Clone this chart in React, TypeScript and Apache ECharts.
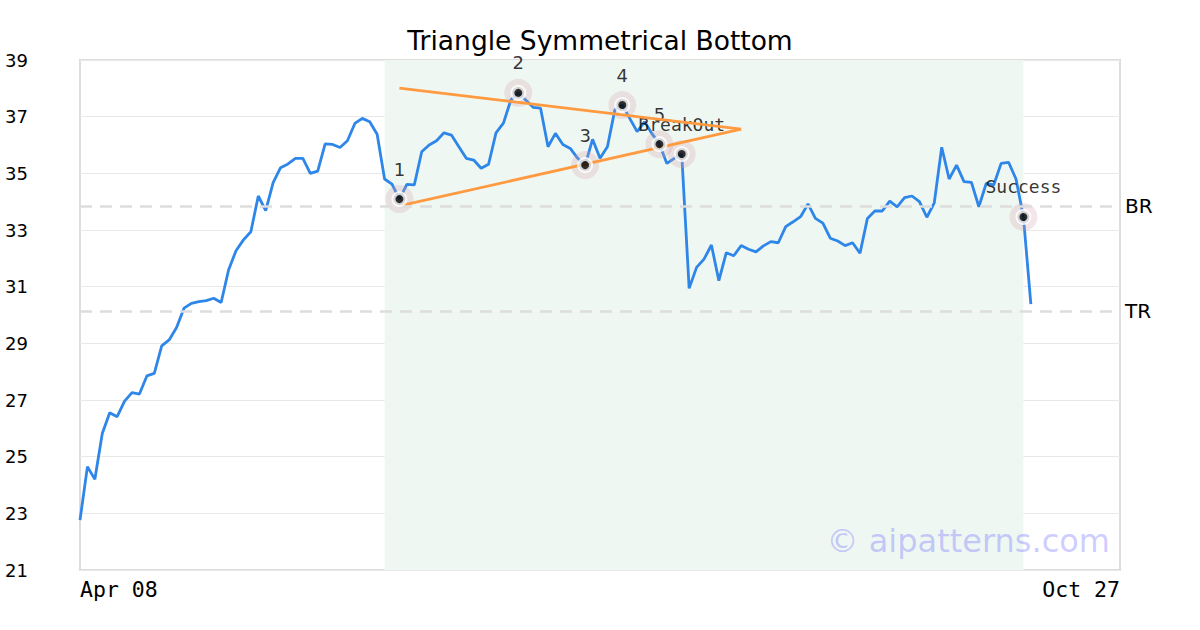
import React, { useEffect, useRef } from "react";
import * as echarts from "echarts";

const chartTitle = "Triangle Symmetrical Bottom";
const xTickLabels = ["Apr 08", "Oct 27"];
const categoryCount = 141;
const categories = Array.from({ length: categoryCount }, (_, i) => String(i));

const closeValues = [
  22.76, 24.65, 24.2, 25.82, 26.55, 26.41, 26.96, 27.26, 27.21, 27.85, 27.94, 28.91, 29.12, 29.56, 30.24,
  30.41, 30.47, 30.51, 30.59, 30.44, 31.59, 32.27, 32.65, 32.94, 34.2, 33.68, 34.67, 35.2, 35.33, 35.53,
  35.53, 35.0, 35.08, 36.04, 36.02, 35.91, 36.15, 36.76, 36.94, 36.82, 36.38, 34.8, 34.62, 34.09,
  34.61, 34.59, 35.76, 36.0, 36.15, 36.43, 36.35, 35.94, 35.53, 35.47, 35.18, 35.32, 36.43, 36.77, 37.59, 37.84,
  37.59, 37.33, 37.3, 35.94, 36.41, 36.02, 35.88, 35.53, 35.29,
  36.2, 35.53, 35.94, 37.24, 37.41,
  36.94, 36.47, 36.82, 36.4, 36.03, 35.35, 35.53, 35.68,
  30.94, 31.68, 31.97, 32.47, 31.21, 32.2, 32.09, 32.45, 32.32, 32.23, 32.44, 32.59, 32.55, 33.12, 33.29,
  33.47, 33.92, 33.41, 33.24, 32.71, 32.61, 32.45, 32.55, 32.18, 33.41, 33.67, 33.67, 34.02, 33.82, 34.14,
  34.2, 34.0, 33.45, 33.96, 35.92, 34.8, 35.29, 34.71, 34.68, 33.82, 34.65, 34.59, 35.35, 35.39, 34.8,
  33.46, 30.38,
];

const patternLabels = ["1", "2", "3", "4", "5", "BreakOut", "Success"];
const patternIndex = [43, 59, 68, 73, 78, 81, 127];
const monoLabels = ["BreakOut", "Success"];

const levelNames = ["BR", "TR"];
const levelValues = [33.85, 30.14];

const upperTrendX = [43, 89];
const upperTrendY = [38.01, 36.56];
const lowerTrendX = [43, 89];
const lowerTrendY = [33.85, 36.56];

const shadeRange = [41, 127];
const yMin = 21;
const yMax = 39;
const yStep = 2;
const watermark = "\u00a9 aipatterns.com";

const SANS = "DejaVu Sans";
const MONO = "DejaVu Sans Mono";

export default function App() {
  const ref = useRef<HTMLDivElement>(null);

  useEffect(() => {
    if (!ref.current) return;
    const chart = echarts.init(ref.current, null, { renderer: "svg" });

    const patternData = patternIndex.map((idx, k) => ({
      value: [idx, closeValues[idx]],
      name: patternLabels[k],
      label: {
        fontFamily: monoLabels.includes(patternLabels[k]) ? MONO : SANS,
      },
    }));

    const option: any = {
      animation: false,
      backgroundColor: "#ffffff",
      title: {
        text: chartTitle,
        left: "center",
        top: 22,
        textStyle: { fontFamily: SANS, fontSize: 26.5, fontWeight: "normal", color: "#000" },
      },
      grid: {
        left: 80,
        right: 80,
        top: 60,
        bottom: 60,
        show: true,
        borderColor: "#dddddd",
        borderWidth: 2,
        backgroundColor: "transparent",
      },
      xAxis: {
        type: "category",
        data: categories,
        boundaryGap: false,
        axisLine: { show: false },
        axisTick: { show: false },
        splitLine: { show: false },
        axisLabel: {
          interval: (i: number) => i === 0 || i === categoryCount - 1,
          formatter: (_v: string, i: number) => (i === 0 ? xTickLabels[0] : xTickLabels[1]),
          alignMinLabel: "left",
          alignMaxLabel: "right",
          fontFamily: MONO,
          fontSize: 21.5,
          color: "#000",
          margin: 8,
        },
      },
      yAxis: {
        type: "value",
        min: yMin,
        max: yMax,
        interval: yStep,
        axisLine: { show: false },
        axisTick: { show: false },
        splitLine: { lineStyle: { color: "#e8e8e8", width: 1 } },
        axisLabel: {
          align: "left",
          margin: 75,
          fontFamily: SANS,
          fontSize: 18,
          color: "#000",
        },
      },
      series: [
        {
          type: "line",
          data: closeValues,
          symbol: "none",
          lineStyle: { color: "#2e86e8", width: 2.8 },
          z: 2,
          markArea: {
            silent: true,
            itemStyle: { color: "#eff7f3" },
            data: [[{ xAxis: shadeRange[0] }, { xAxis: shadeRange[1] }]],
          },
          markLine: {
            silent: true,
            symbol: "none",
            lineStyle: { color: "#dddddd", width: 2.5, type: [12, 8] },
            label: {
              position: "end",
              formatter: "{b}",
              fontFamily: SANS,
              fontSize: 20,
              color: "#000",
              distance: 5,
            },
            data: levelValues.map((v, k) => ({ yAxis: v, name: levelNames[k] })),
          },
        },
        {
          type: "scatter",
          data: patternData,
          symbolSize: 28,
          itemStyle: { color: "rgba(215,160,170,0.34)" },
          label: {
            show: true,
            position: "top",
            distance: 7,
            formatter: "{b}",
            fontSize: 18,
            color: "#000",
          },
          z: 3,
        },
        {
          type: "line",
          data: upperTrendX.map((x, k) => [x, upperTrendY[k]]),
          symbol: "none",
          lineStyle: { color: "#ff9a40", width: 2.8 },
          z: 4,
        },
        {
          type: "line",
          data: lowerTrendX.map((x, k) => [x, lowerTrendY[k]]),
          symbol: "none",
          lineStyle: { color: "#ff9a40", width: 2.8 },
          z: 4,
        },
        {
          type: "scatter",
          data: patternIndex.map((idx) => [idx, closeValues[idx]]),
          symbolSize: 12,
          itemStyle: { color: "#000", borderColor: "#fff", borderWidth: 4 },
          z: 5,
        },
      ],
      graphic: [
        {
          type: "text",
          right: 90,
          top: 525,
          style: {
            text: watermark,
            fontFamily: SANS,
            fontSize: 32,
            fill: "rgba(110,110,255,0.35)",
          },
          z: 10,
        },
      ],
    };

    chart.setOption(option);
    return () => chart.dispose();
  }, []);

  return (
    <div
      ref={ref}
      style={{ position: "fixed", left: 0, top: 0, width: 1200, height: 630 }}
    />
  );
}
